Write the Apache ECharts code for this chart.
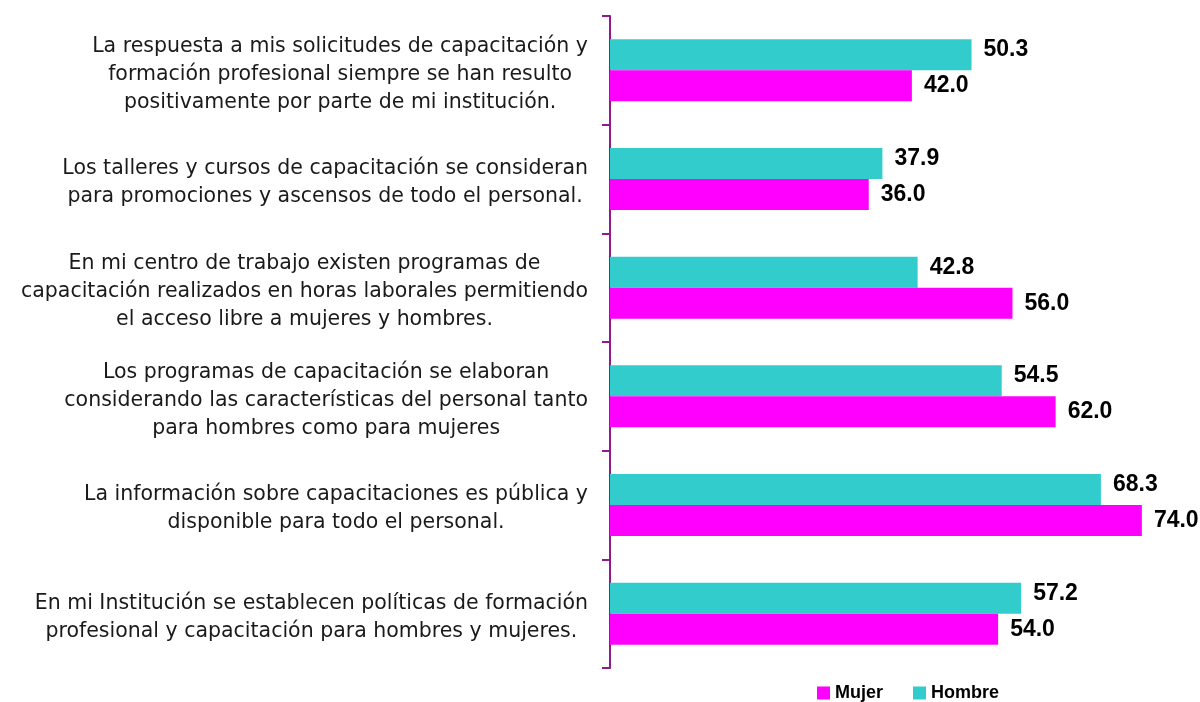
<!DOCTYPE html>
<html>
<head>
<meta charset="utf-8">
<script src="https://cdn.jsdelivr.net/npm/echarts@6/dist/echarts.min.js"></script>
<style>
    html, body { margin: 0; padding: 0; background: #fff; }
    #main { width: 1200px; height: 702px; }
</style>
</head>
<body>
<div id="main"></div>
<script>
    // categorias (de arriba hacia abajo)
    var categorias = [
        'La respuesta a mis solicitudes de capacitación y\nformación profesional siempre se han resulto\npositivamente por parte de mi institución.',
        'Los talleres y cursos de capacitación se consideran\npara promociones y ascensos de todo el personal.',
        'En mi centro de trabajo existen programas de\ncapacitación realizados en horas laborales permitiendo\nel acceso libre a mujeres y hombres.',
        'Los programas de capacitación se elaboran\nconsiderando las características del personal tanto\npara hombres como para mujeres',
        'La información sobre capacitaciones es pública y\ndisponible para todo el personal.',
        'En mi Institución se establecen políticas de formación\nprofesional y capacitación para hombres y mujeres.'
    ];
    var hombre = [50.3, 37.9, 42.8, 54.5, 68.3, 57.2];
    var mujer = [42.0, 36.0, 56.0, 62.0, 74.0, 54.0];

    var fuente = 'DejaVu Sans, Liberation Sans, Arial';

    var chart = echarts.init(document.getElementById('main'));
    chart.setOption({
        animation: false,
        legend: {
            data: ['Mujer', 'Hombre'],
            left: 812,
            top: 679,
            itemWidth: 13,
            itemHeight: 13,
            itemGap: 30,
            icon: 'rect',
            textStyle: {
                fontFamily: 'Liberation Sans, Arial',
                fontWeight: 'bold',
                fontSize: 18,
                color: '#000'
            }
        },
        grid: {
            left: 610,
            right: 15,
            top: 16,
            bottom: 34
        },
        xAxis: {
            type: 'value',
            min: 0,
            max: 80,
            show: false
        },
        yAxis: {
            type: 'category',
            inverse: true,
            data: categorias,
            axisLine: {
                lineStyle: { color: '#8E1A8E', width: 2 }
            },
            axisTick: {
                show: true,
                length: 8,
                lineStyle: { color: '#8E1A8E', width: 2 }
            },
            axisLabel: {
                margin: 22,
                align: 'right',
                padding: [8, 0, 0, 0],
                fontFamily: fuente,
                fontSize: 20.5,
                lineHeight: 28,
                color: '#1a1a1a',
                formatter: function (v) {
                    return v.split('\n').map(function (l) { return '{c|' + l + '}'; }).join('\n');
                },
                rich: {
                    c: {
                        align: 'center',
                        fontFamily: fuente,
                        fontSize: 20.5,
                        lineHeight: 28,
                        color: '#1a1a1a'
                    }
                }
            }
        },
        series: [{
            name: 'Hombre',
            type: 'bar',
            data: hombre,
            barWidth: 31,
            barGap: '0%',
            itemStyle: { color: '#33CCCC' },
            label: {
                show: true,
                position: 'right',
                distance: 12,
                offset: [0, -5],
                formatter: function (p) { return p.value.toFixed(1); },
                fontFamily: 'Liberation Sans, Arial',
                fontWeight: 'bold',
                fontSize: 23,
                color: '#000'
            }
        }, {
            name: 'Mujer',
            type: 'bar',
            data: mujer,
            barWidth: 31,
            barGap: '0%',
            itemStyle: { color: '#FF00FF' },
            label: {
                show: true,
                position: 'right',
                distance: 12,
                formatter: function (p) { return p.value.toFixed(1); },
                fontFamily: 'Liberation Sans, Arial',
                fontWeight: 'bold',
                fontSize: 23,
                color: '#000'
            }
        }]
    });
</script>
</body>
</html>
